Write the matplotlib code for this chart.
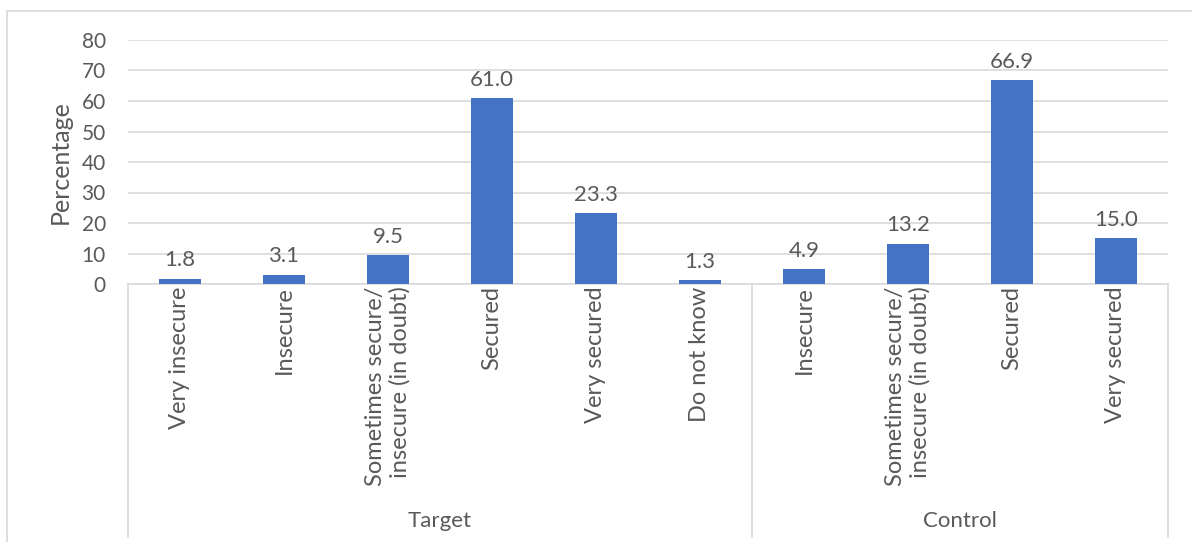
import matplotlib.pyplot as plt
from matplotlib.patches import Rectangle

plt.rcParams['font.family'] = ['Lato', 'DejaVu Sans']

# data
groups = ['Target', 'Control']
group_sizes = [6, 4]
categories = ['Very insecure', 'Insecure', 'Sometimes secure/\ninsecure (in doubt)',
              'Secured', 'Very secured', 'Do not know',
              'Insecure', 'Sometimes secure/\ninsecure (in doubt)', 'Secured', 'Very secured']
values = [1.8, 3.1, 9.5, 61.0, 23.3, 1.3, 4.9, 13.2, 66.9, 15.0]

BAR_COLOR = '#4472C4'
TEXT_COLOR = '#595959'
GRID_COLOR = '#D9D9D9'

fig = plt.figure(figsize=(11.92, 5.42), dpi=100)
ax = fig.add_axes([128 / 1192, (542 - 284) / 542, 1040 / 1192, 244 / 542])

x = list(range(len(values)))
ax.bar(x, values, width=0.4, color=BAR_COLOR, zorder=3)
for xi, v in zip(x, values):
    ax.annotate(f'{v:.1f}', (xi, v), xytext=(0, 6), textcoords='offset points',
                ha='center', va='bottom', fontsize=16, color=TEXT_COLOR)

ax.set_xlim(-0.5, len(values) - 0.5)
ax.set_ylim(0, 80)
ax.set_yticks(range(0, 81, 10))
ax.tick_params(axis='y', length=0, labelsize=15, labelcolor=TEXT_COLOR, pad=16)
ax.set_xticks([])
ax.yaxis.grid(True, color=GRID_COLOR, linewidth=1.2, zorder=0)
for s in ['top', 'right', 'left']:
    ax.spines[s].set_visible(False)
ax.spines['bottom'].set_color(GRID_COLOR)
ax.spines['bottom'].set_linewidth(1.2)
ax.text(-0.065, 0.5, 'Percentage', rotation=90, ha='center', va='center',
        fontsize=18, color=TEXT_COLOR, transform=ax.transAxes)

# category labels (rotated), grouped labels and dividers
trans = ax.get_xaxis_transform()
for xi, lab in zip(x, categories):
    ax.text(xi, -0.01, lab, rotation=90, ha='center', va='top', multialignment='right',
            fontsize=17, color=TEXT_COLOR, transform=trans, linespacing=1.2)

bottom = -(537 - 284) / 244
start = 0
edges = [-0.5]
for g, n in zip(groups, group_sizes):
    mid = start + (n - 1) / 2
    ax.text(mid, -0.97, g, ha='center', va='center', fontsize=16, color=TEXT_COLOR, transform=trans)
    start += n
    edges.append(start - 0.5)
for e in edges:
    ax.plot([e, e], [0, bottom], color=GRID_COLOR, linewidth=1.2, transform=trans, clip_on=False)

# outer chart border
fig.patches.append(Rectangle((7 / 1192, -0.1), 1.2, (542 - 11) / 542 + 0.1,
                             transform=fig.transFigure, fill=False,
                             edgecolor=GRID_COLOR, linewidth=1.2))

fig.savefig('out.png', dpi=100)
